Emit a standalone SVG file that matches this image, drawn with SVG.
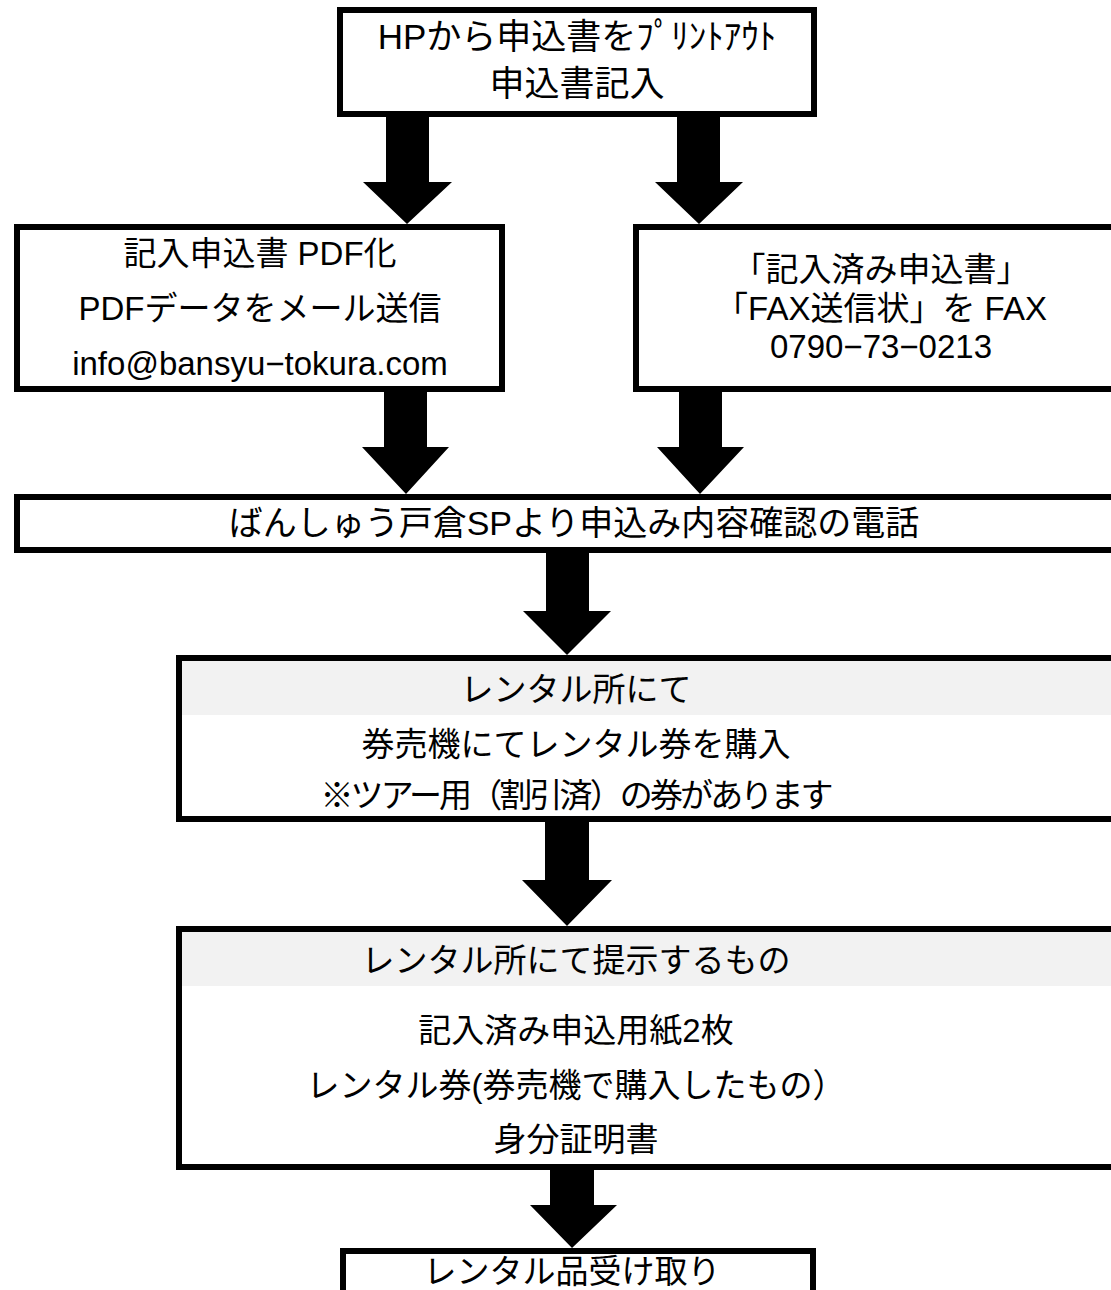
<svg xmlns="http://www.w3.org/2000/svg" width="1111" height="1290" viewBox="0 0 1111 1290">
<style>
.box{fill:#ffffff;stroke:#000000;stroke-width:6}
.band{fill:#f2f2f2;stroke:none}
.t{font-family:"Liberation Sans","Noto Sans CJK JP",sans-serif;font-size:33px;fill:#000000;text-anchor:middle}
.arrow{fill:#000000;stroke:none}
</style>
<rect x="0" y="0" width="1111" height="1290" fill="#ffffff"/>
<g id="n1">
<rect class="box" x="340" y="10" width="474" height="104"/>
<text class="t" x="577" y="49" style="font-size:35px">HPから申込書をﾌﾟﾘﾝﾄｱｳﾄ</text>
<text class="t" x="577" y="96" style="font-size:35px">申込書記入</text>
</g>
<g id="n2">
<rect class="box" x="17" y="227" width="485" height="162"/>
<text class="t" x="260" y="265">記入申込書 PDF化</text>
<text class="t" x="260" y="320">PDFデータをメール送信</text>
<text class="t" x="260" y="375">info@bansyu−tokura.com</text>
</g>
<g id="n3">
<rect class="box" x="636" y="227" width="510" height="162"/>
<text class="t" x="881" y="281">「記入済み申込書」</text>
<text class="t" x="881" y="320">「FAX送信状」を FAX</text>
<text class="t" x="881" y="358">0790−73−0213</text>
</g>
<g id="n4">
<rect class="box" x="17" y="497" width="1129" height="53"/>
<text class="t" x="574" y="535" style="font-size:34px">ばんしゅう戸倉SPより申込み内容確認の電話</text>
</g>
<g id="n5">
<rect class="box" x="179" y="658" width="967" height="161"/>
<rect class="band" x="182" y="661" width="961" height="54"/>
<text class="t" x="576" y="701">レンタル所にて</text>
<text class="t" x="576" y="756">券売機にてレンタル券を購入</text>
<text class="t" x="577" y="807" textLength="513" lengthAdjust="spacing">※ツアー用（割引済）の券があります</text>
</g>
<g id="n6">
<rect class="box" x="179" y="929" width="967" height="238"/>
<rect class="band" x="182" y="932" width="961" height="54"/>
<text class="t" x="576" y="972">レンタル所にて提示するもの</text>
<text class="t" x="576" y="1042">記入済み申込用紙2枚</text>
<text class="t" x="576" y="1097">レンタル券(券売機で購入したもの）</text>
<text class="t" x="576" y="1151">身分証明書</text>
</g>
<g id="n7">
<rect class="box" x="343" y="1251" width="470" height="80"/>
<text class="t" x="572" y="1283">レンタル品受け取り</text>
</g>
<g id="connectors">
<path class="arrow" d="M386,117 L429,117 L429,182 L452,182 L407,224 L363,182 L386,182 Z"/>
<path class="arrow" d="M677,117 L720,117 L720,182 L743,182 L699,224 L655,182 L677,182 Z"/>
<path class="arrow" d="M384,392 L427,392 L427,447 L449,447 L406,494 L362,447 L384,447 Z"/>
<path class="arrow" d="M679,392 L722,392 L722,447 L744,447 L700,494 L657,447 L679,447 Z"/>
<path class="arrow" d="M546,553 L589,553 L589,611 L611,611 L567,655 L523,611 L546,611 Z"/>
<path class="arrow" d="M545,822 L589,822 L589,880 L612,880 L567,926 L522,880 L545,880 Z"/>
<path class="arrow" d="M550,1170 L594,1170 L594,1205 L617,1205 L572,1248 L530,1205 L550,1205 Z"/>
</g>
</svg>
